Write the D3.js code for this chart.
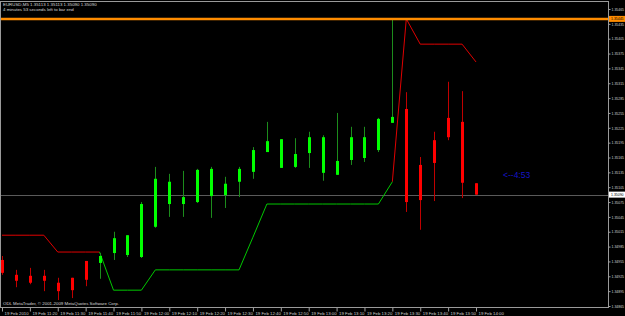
<!DOCTYPE html>
<html lang="en">
<head>
<meta charset="UTF-8">
<title>EURUSD,M5</title>
<script src="https://d3js.org/d3.v7.min.js"></script>
<style>
    body { margin: 0; background: #000; }
    svg { display: block; background: #000; }
    text { font-family: "Liberation Sans", Arial, sans-serif; }
    .axis text { fill: #d0d0d0; font-size: 4.3px; }
    .axis line { stroke: #a0a0a0; }
    .axis path { display: none; }
    .info { fill: #d8d8d8; font-size: 4.4px; }
</style>
</head>
<body>
<svg width="625" height="316"></svg>
<script>
    // bars 11:10 .. 14:00, 5 minute candles
    const open  = [1.34958, 1.34928, 1.34926, 1.34926, 1.34912, 1.34922, 1.34956, 1.34952, 1.34972, 1.34968,
                   1.34964, 1.35025, 1.35071, 1.35071, 1.35075, 1.35087, 1.35089, 1.35116, 1.35136, 1.35176,
                   1.35144, 1.35146, 1.35174, 1.35134, 1.35130, 1.35160, 1.35164, 1.35180, 1.35235, 1.35263,
                   1.35150, 1.35200, 1.35245, 1.35237, 1.35113];
    const high  = [1.34966, 1.34938, 1.34942, 1.34938, 1.34922, 1.34922, 1.34956, 1.34972, 1.35015, 1.35008,
                   1.35075, 1.35146, 1.35132, 1.35138, 1.35142, 1.35146, 1.35126, 1.35146, 1.35186, 1.35237,
                   1.35202, 1.35204, 1.35217, 1.35210, 1.35255, 1.35227, 1.35227, 1.35245, 1.35445, 1.35297,
                   1.35166, 1.35217, 1.35318, 1.35299, 1.35113];
    const low   = [1.34928, 1.34903, 1.34909, 1.34895, 1.34877, 1.34881, 1.34905, 1.34920, 1.34958, 1.34964,
                   1.34962, 1.35023, 1.35045, 1.35045, 1.35073, 1.35043, 1.35063, 1.35085, 1.35122, 1.35176,
                   1.35144, 1.35144, 1.35144, 1.35118, 1.35130, 1.35150, 1.35156, 1.35176, 1.35235, 1.35055,
                   1.35019, 1.35077, 1.35200, 1.35083, 1.35090];
    const close = [1.34932, 1.34916, 1.34912, 1.34916, 1.34895, 1.34897, 1.34918, 1.34966, 1.35002, 1.35008,
                   1.35071, 1.35122, 1.35116, 1.35085, 1.35140, 1.35142, 1.35112, 1.35142, 1.35180, 1.35198,
                   1.35202, 1.35172, 1.35206, 1.35206, 1.35158, 1.35206, 1.35206, 1.35243, 1.35247, 1.35075,
                   1.35079, 1.35154, 1.35206, 1.35114, 1.35090];

    // trailing stop style indicator lines (null = not drawn)
    const redLine = [1.35008, 1.35008, 1.35008, 1.35008, 1.34974, 1.34974, 1.34974, 1.34974, null, null,
                     null, null, null, null, null, null, null, null, null, null,
                     null, null, null, null, null, null, null, null, 1.35116, 1.35445,
                     1.35394, 1.35394, 1.35394, 1.35394, 1.35358];
    const greenLine = [null, null, null, null, null, null, null, 1.34974, 1.34897, 1.34897,
                       1.34897, 1.34938, 1.34938, 1.34938, 1.34938, 1.34938, 1.34938, 1.34938, 1.35004, 1.35071,
                       1.35071, 1.35071, 1.35071, 1.35071, 1.35071, 1.35071, 1.35071, 1.35071, 1.35116, null,
                       null, null, null, null, null];

    const hLevel = 1.35445;   // orange horizontal line
    const priceTicks = [1.35465, 1.35435, 1.35405, 1.35375, 1.35345, 1.35315, 1.35285, 1.35255, 1.35225, 1.35195,
                        1.35165, 1.35135, 1.35105, 1.35075, 1.35045, 1.35015, 1.34985, 1.34955, 1.34925, 1.34895, 1.34865];
    const timeTickBars = [0, 2, 4, 6, 8, 10, 12, 14, 16, 18, 20, 22, 24, 26, 28, 30, 32, 34];
    const timeTickLabels = ["19 Feb 2010", "19 Feb 11:20", "19 Feb 11:30", "19 Feb 11:40", "19 Feb 11:50",
                            "19 Feb 12:00", "19 Feb 12:10", "19 Feb 12:20", "19 Feb 12:30", "19 Feb 12:40",
                            "19 Feb 12:50", "19 Feb 13:00", "19 Feb 13:10", "19 Feb 13:20", "19 Feb 13:30",
                            "19 Feb 13:40", "19 Feb 13:50", "19 Feb 14:00"];

    const plot = { left: 0, right: 608, top: 1, bottom: 307 };

    const svg = d3.select("svg");

    const x = d3.scaleLinear().domain([0, 34]).range([2, 476]);
    const y = d3.scaleLinear().domain([1.34865, 1.35465]).range([306, 9]);

    svg.append("clipPath").attr("id", "clip")
        .append("rect")
        .attr("x", plot.left).attr("y", plot.top)
        .attr("width", plot.right - plot.left).attr("height", plot.bottom - plot.top);

    const g = svg.append("g").attr("clip-path", "url(#clip)");

    const bars = d3.range(open.length);

    // current price line
    const last = close[close.length - 1];
    g.append("line")
        .attr("x1", plot.left).attr("x2", plot.right)
        .attr("y1", Math.round(y(last)) + 0.5).attr("y2", Math.round(y(last)) + 0.5)
        .attr("stroke", "#5a5a5a");

    // indicator lines
    const lineGen = d3.line()
        .defined(d => d.v !== null)
        .x(d => x(d.i))
        .y(d => y(d.v));

    g.append("path")
        .attr("d", lineGen(redLine.map((v, i) => ({ i, v }))))
        .attr("fill", "none").attr("stroke", "#e00000").attr("stroke-width", 1);
    g.append("path")
        .attr("d", lineGen(greenLine.map((v, i) => ({ i, v }))))
        .attr("fill", "none").attr("stroke", "#00c800").attr("stroke-width", 1);

    // candles
    const candle = g.selectAll(".candle")
        .data(bars)
        .enter()
        .append("g")
        .attr("class", "candle");

    candle.append("line")
        .attr("x1", i => Math.round(x(i)) + 0.5)
        .attr("x2", i => Math.round(x(i)) + 0.5)
        .attr("y1", i => y(high[i]))
        .attr("y2", i => y(low[i]))
        .attr("stroke", i => close[i] >= open[i] ? "#1c8c1c" : "#c00000");

    candle.append("rect")
        .attr("x", i => Math.round(x(i)) - 1)
        .attr("width", 3)
        .attr("y", i => y(Math.max(open[i], close[i])))
        .attr("height", i => Math.max(1, Math.abs(y(open[i]) - y(close[i]))))
        .attr("fill", i => close[i] >= open[i] ? "#00ff00" : "#ff0000");

    // orange horizontal line
    g.append("line")
        .attr("x1", plot.left).attr("x2", plot.right)
        .attr("y1", y(hLevel)).attr("y2", y(hLevel))
        .attr("stroke", "#ff8c00").attr("stroke-width", 2.5);

    // timer text
    g.append("text")
        .attr("x", 503).attr("y", y(last) - 17)
        .attr("fill", "#1414c8")
        .style("font-size", "8.5px")
        .text("<--4:53");

    // frame
    svg.append("rect")
        .attr("x", plot.left + 0.5).attr("y", plot.top + 0.5)
        .attr("width", plot.right - plot.left).attr("height", plot.bottom - plot.top)
        .attr("fill", "none").attr("stroke", "#9a9a9a");

    // price axis
    svg.append("g")
        .attr("class", "axis")
        .attr("transform", `translate(${plot.right + 0.5},0)`)
        .call(d3.axisRight(y).tickValues(priceTicks).tickSize(2).tickPadding(1).tickFormat(d3.format(".5f")))
        .selectAll("text")
        .style("font-size", "3.8px")
        .attr("textLength", 12.5)
        .attr("lengthAdjust", "spacingAndGlyphs");

    // time axis
    svg.append("g")
        .attr("class", "axis")
        .attr("transform", `translate(0,${plot.bottom + 0.5})`)
        .call(d3.axisBottom(x).tickValues(timeTickBars).tickSize(4)
            .tickFormat((d, k) => timeTickLabels[k]))
        .selectAll("text")
        .attr("text-anchor", "start")
        .attr("x", 2)
        .attr("dy", "0")
        .attr("y", 7.5);

    // price markers on the axis
    function marker(v, bg) {
        const m = svg.append("g").attr("transform", `translate(${plot.right + 1},${y(v)})`);
        m.append("rect").attr("x", 0).attr("y", -3).attr("width", 16).attr("height", 6).attr("fill", bg);
        m.append("text").attr("x", 2).attr("y", 1.4).attr("fill", "#000")
            .style("font-size", "3.8px")
            .attr("textLength", 12.5)
            .attr("lengthAdjust", "spacingAndGlyphs")
            .text(d3.format(".5f")(v));
    }
    marker(hLevel, "#ff8c00");
    marker(last, "#ffffff");

    // header and footer text
    const f5 = d3.format(".5f");
    svg.append("text").attr("class", "info").attr("x", 3).attr("y", 6)
        .text(`EURUSD,M5  ${f5(open[34])} ${f5(high[34])} ${f5(low[34])} ${f5(close[34])}`);
    svg.append("text").attr("class", "info").attr("x", 3).attr("y", 11)
        .text("4 minutes 53 seconds left to bar end");
    svg.append("text").attr("class", "info").attr("x", 3).attr("y", 305)
        .text("ODL MetaTrader, © 2001-2009 MetaQuotes Software Corp.");
</script>
</body>
</html>
